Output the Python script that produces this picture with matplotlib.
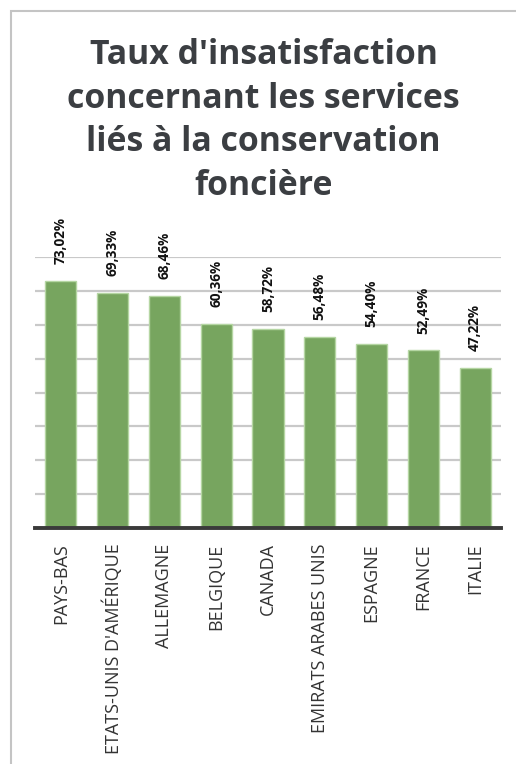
import matplotlib
matplotlib.use("Agg")
import matplotlib.pyplot as plt
from matplotlib.patches import Rectangle

categories = ["PAYS-BAS", "ETATS-UNIS D'AMÉRIQUE", "ALLEMAGNE", "BELGIQUE", "CANADA",
              "EMIRATS ARABES UNIS", "ESPAGNE", "FRANCE", "ITALIE"]
values = [73.02, 69.33, 68.46, 60.36, 58.72, 56.48, 54.40, 52.49, 47.22]
value_labels = ["73,02%", "69,33%", "68,46%", "60,36%", "58,72%", "56,48%", "54,40%", "52,49%", "47,22%"]
yticks = [10, 20, 30, 40, 50, 60, 70, 80]
title = "Taux d'insatisfaction\nconcernant les services\nliés à la conservation\nfoncière"

W, H = 516, 764
fig = plt.figure(figsize=(W / 100, H / 100), dpi=100)
fig.patch.set_facecolor("white")

# outer frame (cropped at right and bottom)
fig.add_artist(Rectangle((11 / W, -0.1), 2, 1 - 11 / H + 0.1, transform=fig.transFigure,
                         fill=False, edgecolor="#c4c4c4", linewidth=1.5))

ax = fig.add_axes([35 / W, 1 - 528 / H, (501 - 35) / W, (528 - 257) / H])
x = list(range(len(categories)))
ax.bar(x, values, width=0.6, color="#77a55f", edgecolor="#b5d6a3", linewidth=1.0, zorder=3)
ax.set_xlim(-0.5, len(categories) - 0.5)
ax.set_ylim(0, 80)
for t in yticks:
    ax.axhline(t, color="#c9c9c9", linewidth=1.6, zorder=1)
ax.axhline(0, color="#3a3a3a", linewidth=2.8, zorder=4, clip_on=False)
for s in ax.spines.values():
    s.set_visible(False)
ax.set_yticks([])
ax.set_xticks(x)
ax.set_xticklabels(categories, rotation=90, fontsize=13, family="Open Sans", color="#333333")
ax.tick_params(axis="x", length=0, pad=11)

for xi, v, lab in zip(x, values, value_labels):
    ax.annotate(lab, (xi, v), xytext=(0, 12), textcoords="offset points", rotation=90,
                ha="center", va="bottom", fontsize=9.8, fontweight="bold", family="Open Sans",
                color="#111111", annotation_clip=False)

fig.text(0.5 * (11 + W) / W, 1 - 38 / H, title, ha="center", va="top", fontsize=24.4,
         fontweight="bold", family="Open Sans", color="#3b3e42", linespacing=1.37)

fig.savefig("out.png", dpi=100)
